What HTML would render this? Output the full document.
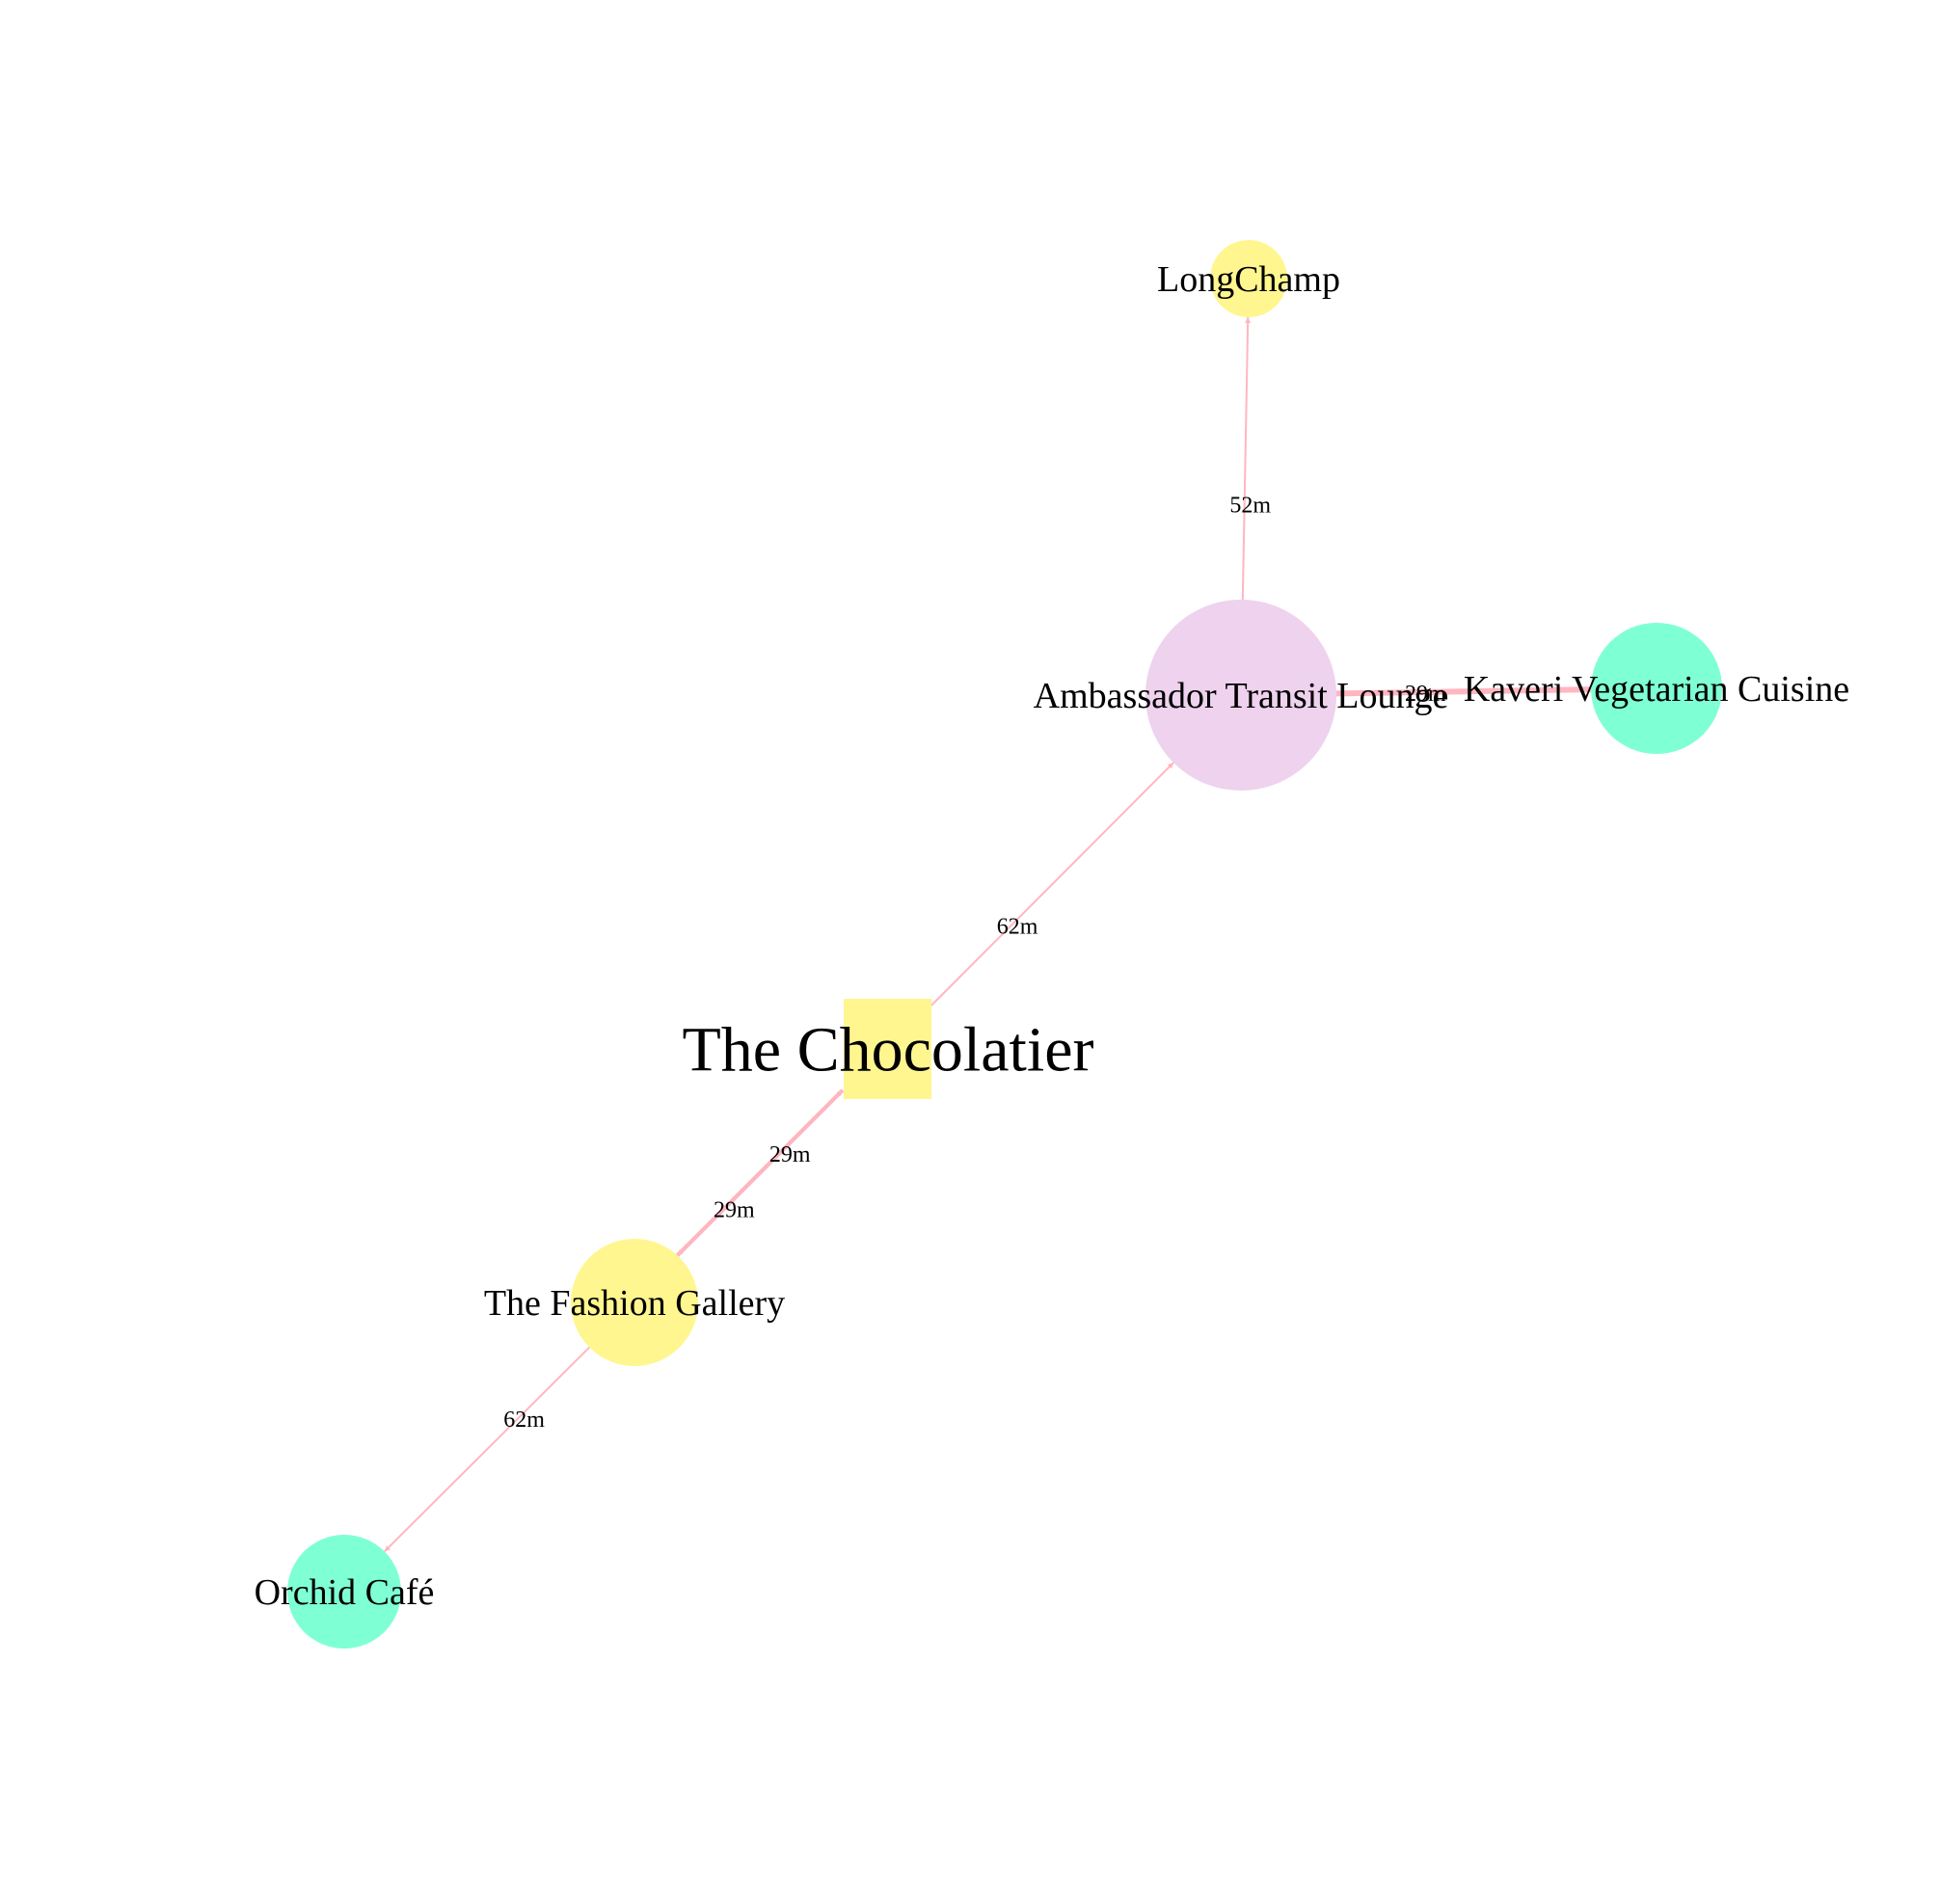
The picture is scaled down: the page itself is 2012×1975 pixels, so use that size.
<!DOCTYPE html>
<html><head><meta charset="utf-8"><style>
html,body{margin:0;padding:0;background:#fff;}
svg{display:block;}
text{font-family:"Liberation Serif",serif;fill:#000;}
</style></head><body>
<svg id="chart" width="2012" height="1975" viewBox="0 0 2012 1975" xmlns="http://www.w3.org/2000/svg">
<defs>
<marker id="arr" viewBox="0 0 10 10" refX="10" refY="5" markerWidth="6" markerHeight="6" orient="auto" markerUnits="userSpaceOnUse"><path d="M0,0 L10,5 L0,10 z" fill="#ffb6c1"/></marker>
</defs>
<g id="edges"></g>
<g id="nodes"></g>
<g id="labels"></g>
</svg>
<script>
const nodeNames = ["LongChamp","Ambassador Transit Lounge","Kaveri Vegetarian Cuisine","The Chocolatier","The Fashion Gallery","Orchid Café"];
const nodeX = [1295,1287,1718,921,658,357];
const nodeY = [289,721,714,1088,1351,1651];
const nodeR = [40,99,68,50,66,59];
const nodeColors = ["#fff68f","#eed2ee","#7fffd4","#fff68f","#fff68f","#7fffd4"];
const nodeShapes = ["circle","circle","circle","square","circle","circle"];
const labelSizes = [38,38,38,66,38,38];
const edgeFrom = [1,1,3,3,4,4];
const edgeTo = [0,2,1,4,3,5];
const edgeLabels = ["52m","29m","62m","29m","29m","62m"];
const edgeLabelT = [0.46,0.43,0.35,0.41,0.37,0.40];
const edgeWidths = [2,6,2,4,4,2];
const ns="http://www.w3.org/2000/svg";
const E=document.getElementById('edges'),N=document.getElementById('nodes'),L=document.getElementById('labels');
function mk(t,a,p){const e=document.createElementNS(ns,t);for(const k in a)e.setAttribute(k,a[k]);p.appendChild(e);return e;}
function boundary(i,ux,uy){
  if(nodeShapes[i]==="square"){const hw=45,hh=52;return Math.min(hw/Math.abs(ux||1e-9),hh/Math.abs(uy||1e-9));}
  return nodeR[i];
}
edgeFrom.forEach((f,k)=>{
  const t=edgeTo[k];
  const dx=nodeX[t]-nodeX[f],dy=nodeY[t]-nodeY[f];const d=Math.hypot(dx,dy);const ux=dx/d,uy=dy/d;
  let off=0;
  if(f===3&&t===4) off=3; if(f===4&&t===3) off=-3;
  const px=-uy*off,py=ux*off;
  const s0=boundary(f,ux,uy),s1=boundary(t,-ux,-uy);
  const ln=mk('line',{x1:nodeX[f]+ux*s0+px,y1:nodeY[f]+uy*s0+py,x2:nodeX[t]-ux*s1+px,y2:nodeY[t]-uy*s1+py,stroke:'#ffb6c1','stroke-width':edgeWidths[k],'marker-end':'url(#arr)'},E);
  
  
  const lt=edgeLabelT[k];
  const lx=nodeX[f]+dx*lt+6, ly=nodeY[f]+dy*lt+1;
  const tx=mk('text',{x:lx,y:ly+8,'text-anchor':'middle','font-size':24},L);
  tx.textContent=edgeLabels[k];
  
  
});
nodeNames.forEach((n,i)=>{
  let sh;
  if(nodeShapes[i]==="square") sh=mk('rect',{x:nodeX[i]-46,y:nodeY[i]-52,width:91,height:104,fill:nodeColors[i]},N);
  else sh=mk('circle',{cx:nodeX[i],cy:nodeY[i],r:nodeR[i],fill:nodeColors[i]},N);
  
  
  const tx=mk('text',{x:nodeX[i],y:nodeY[i]+labelSizes[i]*0.34,'text-anchor':'middle','font-size':labelSizes[i]},L);
  tx.textContent=n;
  
  
});
</script>
</body></html>
